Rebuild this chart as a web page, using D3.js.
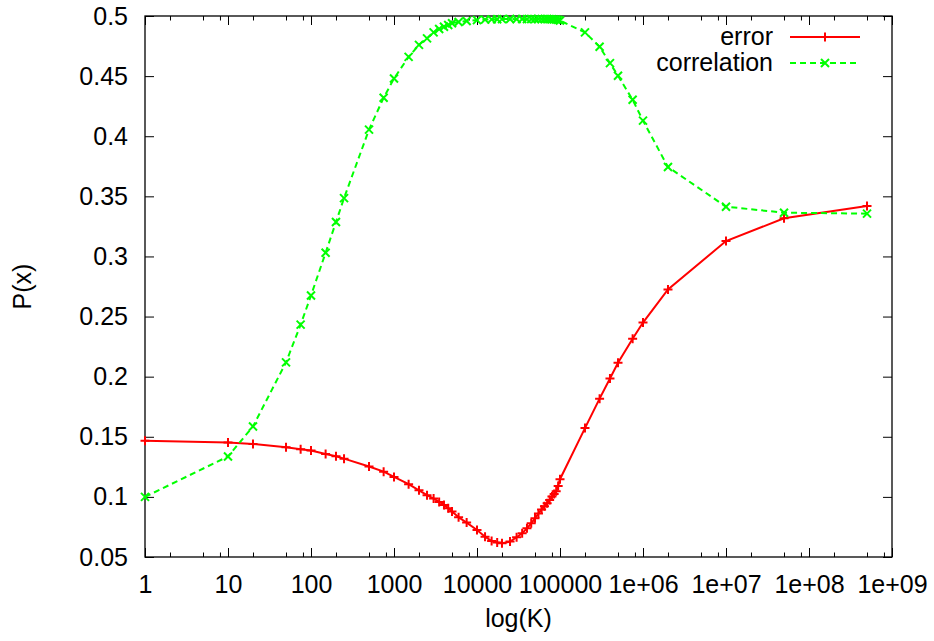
<!DOCTYPE html>
<html>
<head>
<meta charset="utf-8">
<script src="https://cdn.jsdelivr.net/npm/d3@7/dist/d3.min.js"></script>
<style>
  html, body { margin: 0; padding: 0; background: #fff; }
  svg { display: block; font-family: "Liberation Sans", Arial, sans-serif; }
</style>
</head>
<body>
<svg id="chart" width="934" height="641"></svg>
<script>
// ---- data ----
const kValues = [1, 10, 20, 50, 75, 100, 150, 200, 250, 500, 750, 1000, 1500, 2000, 2500, 3000, 3500, 4000, 4500, 5000,
  6000, 7500, 10000, 12500, 15000, 17500, 20000, 25000, 30000, 35000, 40000, 45000, 50000, 55000, 60000, 65000,
  70000, 75000, 80000, 85000, 90000, 95000, 100000, 200000, 300000, 400000, 500000, 750000, 1e6, 2e6, 1e7, 5e7, 5e8];

const errorValues = [0.1467, 0.1453, 0.1440, 0.1412, 0.1397, 0.1385, 0.1357, 0.1338, 0.1318, 0.1253, 0.1210, 0.1166,
  0.1106, 0.1055, 0.1014, 0.0986, 0.0958, 0.0933, 0.0906, 0.0878,
  0.0831, 0.0786, 0.0725, 0.0669, 0.0633, 0.0620, 0.0614, 0.0628, 0.0664, 0.0697, 0.0739, 0.0780, 0.0822, 0.0862, 0.0895, 0.0922,
  0.0947, 0.0975, 0.1003, 0.1025, 0.1046, 0.1090, 0.1147, 0.1572, 0.1817, 0.1985, 0.2115, 0.2315, 0.2450, 0.2725, 0.3128, 0.3317, 0.3419];

const correlationValues = [0.1000, 0.1336, 0.1586, 0.2119, 0.2433, 0.2675, 0.3031, 0.3286, 0.3485, 0.4055, 0.4320, 0.4480,
  0.4660, 0.4760, 0.4814, 0.4864, 0.4892, 0.4911, 0.4925, 0.4940,
  0.4950, 0.4958, 0.4966, 0.4970, 0.4972, 0.4973, 0.4974, 0.4975, 0.4974, 0.4975, 0.4974, 0.4975, 0.4974, 0.4975, 0.4974, 0.4974,
  0.4975, 0.4974, 0.4973, 0.4972, 0.4971, 0.4968, 0.4962, 0.4864, 0.4744, 0.4608, 0.4503, 0.4303, 0.4130, 0.3744, 0.3414, 0.3364, 0.3356];

const xMajorTicks = [1, 10, 100, 1000, 10000, 100000, 1e6, 1e7, 1e8, 1e9];
const xTickLabels = ["1", "10", "100", "1000", "10000", "100000", "1e+06", "1e+07", "1e+08", "1e+09"];
const xMinorMultipliers = [2, 5, 8];
const yTicks = [0.05, 0.1, 0.15, 0.2, 0.25, 0.3, 0.35, 0.4, 0.45, 0.5];
const yTickLabels = ["0.05", "0.1", "0.15", "0.2", "0.25", "0.3", "0.35", "0.4", "0.45", "0.5"];
const seriesNames = ["error", "correlation"];

// ---- layout ----
const pLeft = 145, pRight = 892, pTop = 16, pBottom = 557;
const svg = d3.select("#chart");
const x = d3.scaleLog().domain([1, 1e9]).range([pLeft, pRight]);
const y = d3.scaleLinear().domain([0.05, 0.5]).range([pBottom, pTop]);

const xMinor = [];
for (let i = 0; i < 9; i++) xMinorMultipliers.forEach(m => xMinor.push(m * xMajorTicks[i]));

const fontSize = 25;
const labelFmtX = d => xTickLabels[xMajorTicks.indexOf(d)];
const labelFmtY = d => yTickLabels[yTicks.findIndex(t => Math.abs(t - d) < 1e-9)];

function styleAxis(g) {
  g.select(".domain").remove();
  g.selectAll(".tick line").attr("stroke", "#000").attr("stroke-width", 1);
  g.selectAll("text").attr("fill", "#000").attr("font-size", fontSize)
    .attr("font-family", "'Liberation Sans', Arial, sans-serif");
}

// bottom major with labels
svg.append("g").attr("transform", `translate(0,${pBottom})`)
  .call(d3.axisBottom(x).tickValues(xMajorTicks).tickFormat(labelFmtX).tickSizeInner(-9).tickSizeOuter(0).tickPadding(18))
  .call(styleAxis);
// bottom minor
svg.append("g").attr("transform", `translate(0,${pBottom})`)
  .call(d3.axisBottom(x).tickValues(xMinor).tickFormat("").tickSizeInner(-4.5).tickSizeOuter(0))
  .call(styleAxis);
// top major and minor
svg.append("g").attr("transform", `translate(0,${pTop})`)
  .call(d3.axisTop(x).tickValues(xMajorTicks).tickFormat("").tickSizeInner(-9).tickSizeOuter(0))
  .call(styleAxis);
svg.append("g").attr("transform", `translate(0,${pTop})`)
  .call(d3.axisTop(x).tickValues(xMinor).tickFormat("").tickSizeInner(-4.5).tickSizeOuter(0))
  .call(styleAxis);
// left with labels
svg.append("g").attr("transform", `translate(${pLeft},0)`)
  .call(d3.axisLeft(y).tickValues(yTicks).tickFormat(labelFmtY).tickSizeInner(-9).tickSizeOuter(0).tickPadding(17))
  .call(styleAxis);
// right
svg.append("g").attr("transform", `translate(${pRight},0)`)
  .call(d3.axisRight(y).tickValues(yTicks).tickFormat("").tickSizeInner(-9).tickSizeOuter(0))
  .call(styleAxis);

// border
svg.append("rect").attr("x", pLeft).attr("y", pTop).attr("width", pRight - pLeft).attr("height", pBottom - pTop)
  .attr("fill", "none").attr("stroke", "#000").attr("stroke-width", 1.3);

// axis titles
svg.append("text").attr("x", (pLeft + pRight) / 2).attr("y", 627).attr("text-anchor", "middle")
  .attr("font-size", fontSize).text("log(K)");
svg.append("text").attr("transform", `translate(31,${(pTop + pBottom) / 2}) rotate(-90)`).attr("text-anchor", "middle")
  .attr("font-size", fontSize).text("P(x)");

// series
const errData = kValues.map((k, i) => [k, errorValues[i]]);
const corData = kValues.map((k, i) => [k, correlationValues[i]]);
const line = d3.line().x(d => x(d[0])).y(d => y(d[1]));
const plusPath = "M-4.5,0H4.5M0,-4.5V4.5";
const crossPath = "M-4,-4L4,4M-4,4L4,-4";
const red = "#ff0000", green = "#00ff00";

const plot = svg.append("g");
plot.append("path").datum(errData).attr("d", line).attr("fill", "none").attr("stroke", red).attr("stroke-width", 2);
plot.append("g").selectAll("path").data(errData).join("path")
  .attr("transform", d => `translate(${x(d[0])},${y(d[1])})`).attr("d", plusPath)
  .attr("stroke", red).attr("stroke-width", 2).attr("fill", "none");

plot.append("path").datum(corData).attr("d", line).attr("fill", "none").attr("stroke", green).attr("stroke-width", 2)
  .attr("stroke-dasharray", "6,4");
plot.append("g").selectAll("path").data(corData).join("path")
  .attr("transform", d => `translate(${x(d[0])},${y(d[1])})`).attr("d", crossPath)
  .attr("stroke", green).attr("stroke-width", 2).attr("fill", "none");

// legend
const legend = [
  { name: seriesNames[0], color: red, dash: null, marker: plusPath, ly: 37 },
  { name: seriesNames[1], color: green, dash: "6,4", marker: crossPath, ly: 63 }
];
const lg = svg.append("g");
legend.forEach(l => {
  lg.append("text").attr("x", 773).attr("y", l.ly + 8).attr("text-anchor", "end").attr("font-size", fontSize).text(l.name);
  lg.append("line").attr("x1", 790).attr("x2", 860).attr("y1", l.ly).attr("y2", l.ly)
    .attr("stroke", l.color).attr("stroke-width", 2).attr("stroke-dasharray", l.dash);
  lg.append("path").attr("transform", `translate(825,${l.ly})`).attr("d", l.marker)
    .attr("stroke", l.color).attr("stroke-width", 2).attr("fill", "none");
});
</script>
</body>
</html>
